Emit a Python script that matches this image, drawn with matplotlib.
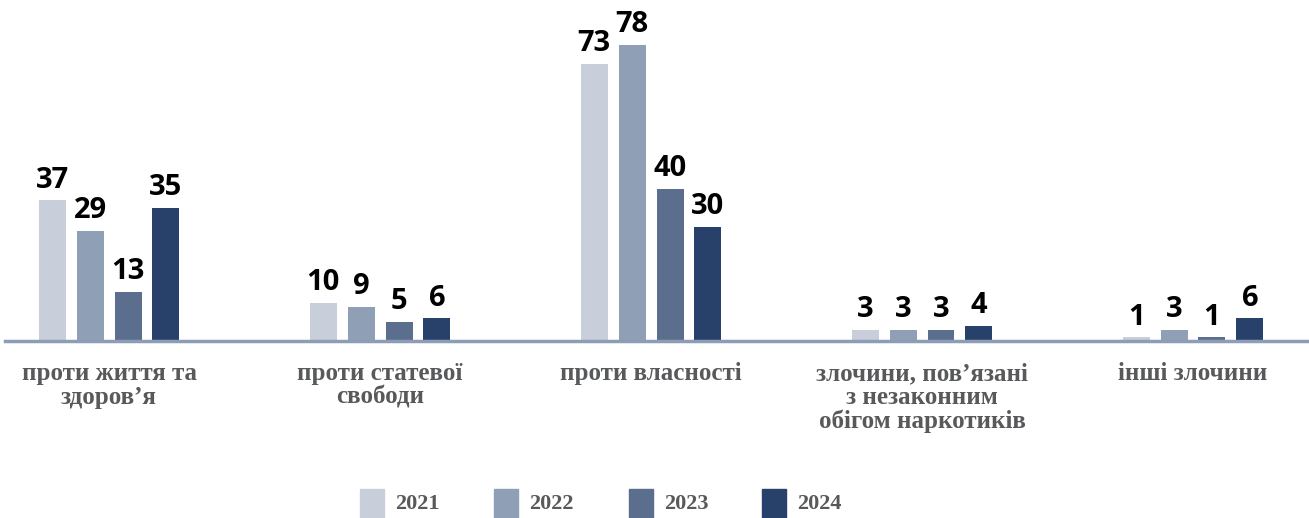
import matplotlib
matplotlib.use("Agg")
import matplotlib.pyplot as plt
from matplotlib.patches import Rectangle
import numpy as np

categories = ["проти життя та\nздоров’я", "проти статевої\nсвободи", "проти власності",
              "злочини, пов’язані\nз незаконним\nобігом наркотиків", "інші злочини"]
years = ["2021", "2022", "2023", "2024"]
v2021 = [37, 10, 73, 3, 1]
v2022 = [29, 9, 78, 3, 3]
v2023 = [13, 5, 40, 3, 1]
v2024 = [35, 6, 30, 4, 6]
series = [v2021, v2022, v2023, v2024]
colors = ["#c8cfdb", "#8f9fb5", "#5b6e8e", "#28416b"]

W, H = 1309, 518
fig = plt.figure(figsize=(W / 100, H / 100), dpi=100)
ax = fig.add_axes([5 / W, 177 / H, 1 - 5 / W, 323 / H])

x = np.arange(len(categories))
step = 0.14
bw = 0.0996
for i, (vals, c) in enumerate(zip(series, colors)):
    pos = x + (i - 1.5) * step
    ax.bar(pos, vals, width=bw, color=c, zorder=2)
    for xp, v in zip(pos, vals):
        ax.annotate(str(v), (xp, v), xytext=(0, 4), textcoords="offset points",
                    ha="center", va="bottom", fontsize=21, fontweight="bold",
                    family="Open Sans", color="black")

ax.set_xlim(-0.384, 4.428)
ax.set_ylim(0, 85)
for s in ["top", "right", "left"]:
    ax.spines[s].set_visible(False)
ax.spines["bottom"].set_color("#8d9db5")
ax.spines["bottom"].set_linewidth(2.5)
ax.set_yticks([])
ax.set_xticks(x)
ax.set_xticklabels(categories, fontsize=18, fontweight="bold", family="Liberation Serif",
                   color="#58595b", linespacing=1.05)
ax.tick_params(axis="x", length=0, pad=15)

# legend
lx = [360, 494, 629, 762]
for xx, lab, c in zip(lx, years, colors):
    fig.patches.append(Rectangle((xx / W, 0), 24 / W, 29 / H, transform=fig.transFigure,
                                 color=c, figure=fig))
    fig.text((xx + 35) / W, 14 / H, lab, fontsize=16, fontweight="bold",
             family="Liberation Serif", color="#58595b", va="center", ha="left")

fig.savefig("out.png", dpi=100)
